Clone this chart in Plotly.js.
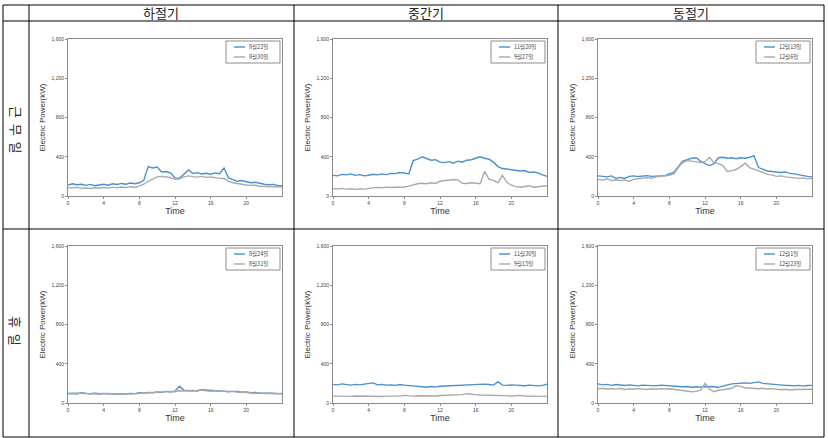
<!DOCTYPE html>
<html>
<head>
<meta charset="utf-8">
<script src="https://cdn.plot.ly/plotly-3.0.1.min.js"></script>
<style>html,body{margin:0;padding:0;background:#fff;}#chart{width:828px;height:438px;}</style>
</head>
<body>
<div id="chart"></div>
<script>
// ---- data ----
const hours = [0,0.5,1,1.5,2,2.5,3,3.5,4,4.5,5,5.5,6,6.5,7,7.5,8,8.5,9,9.5,10,10.5,11,11.5,12,12.5,13,13.5,14,14.5,15,15.5,16,16.5,17,17.5,18,18.5,19,19.5,20,20.5,21,21.5,22,22.5,23,23.5,24];
const xTicks = [0,4,8,12,16,20];
const yTicks = [0,400,800,1200,1600];
const columnTitles = ["하절기","중간기","동절기"];
const rowTitles = ["근\u00A0\u00A0무\u00A0\u00A0일","휴\u00A0\u00A0일"];
const xTitle = "Time";
const yTitle = "Electric Power(kW)";

// 하절기 근무일
const aug22 = [110,125,115,120,108,118,105,112,120,110,125,118,128,120,132,125,135,160,300,285,295,245,250,235,185,180,225,265,230,238,225,232,222,235,228,285,185,165,150,158,145,135,140,128,120,115,118,108,105];
const aug30 = [85,80,88,78,82,76,84,79,86,80,90,84,92,86,95,90,100,120,150,175,195,200,192,188,170,175,195,205,198,192,200,190,195,185,180,178,150,135,125,118,112,108,110,100,98,102,95,98,92];
// 중간기 근무일
const nov20 = [210,205,220,215,225,210,218,205,212,222,215,225,218,230,228,240,235,225,360,375,400,380,365,370,345,340,350,335,355,345,365,370,385,400,385,375,345,300,280,275,270,265,255,260,240,245,235,215,200];
const sep27 = [75,72,78,70,74,68,72,70,78,85,88,84,90,86,88,84,92,100,115,125,130,125,135,128,150,155,160,168,165,130,128,135,130,125,250,170,160,135,210,140,110,95,90,100,105,90,95,100,105];
// 동절기 근무일
const dec13 = [205,200,195,205,180,190,178,200,205,198,202,208,200,205,210,208,225,240,300,355,370,385,390,355,330,310,330,390,395,385,390,380,390,385,395,410,290,270,255,250,245,240,245,230,225,215,205,200,195];
const dec6 = [170,160,175,155,165,158,162,150,170,178,182,188,180,195,200,205,210,225,290,340,360,355,345,340,350,395,340,330,310,250,258,270,300,335,290,275,255,240,220,215,200,205,195,190,185,180,185,175,180];
// 하절기 휴일
const aug24 = [95,100,92,105,98,95,100,94,98,92,96,90,95,92,98,96,105,100,108,105,112,108,118,112,120,170,130,125,128,122,135,130,125,120,122,118,120,115,118,110,112,105,108,100,102,98,100,95,98];
const aug31 = [100,95,102,96,100,92,97,90,95,98,92,95,90,96,92,95,98,102,100,108,105,112,115,118,115,125,122,128,124,130,132,125,120,125,118,122,112,118,108,112,105,102,100,104,96,100,95,98,92];
// 중간기 휴일
const nov30 = [190,185,195,188,182,190,185,192,195,205,185,190,182,185,180,188,182,178,175,172,165,160,168,162,170,172,178,175,182,180,185,182,190,185,192,188,182,215,182,180,185,182,180,176,182,178,175,180,192];
const sep15 = [70,68,72,70,68,72,70,68,72,70,68,66,70,68,72,70,78,72,70,74,72,70,74,72,76,78,80,78,82,85,95,88,85,82,80,78,76,74,72,70,72,74,78,72,70,68,70,68,70];
// 동절기 휴일
const dec1 = [195,185,190,180,188,182,178,185,180,175,182,178,180,175,182,178,175,172,170,165,168,160,165,162,168,170,165,160,175,185,195,200,198,205,200,208,215,200,195,190,192,185,180,178,175,180,172,178,180];
const dec23 = [145,150,140,148,142,150,138,145,140,148,142,138,145,140,148,142,145,140,135,130,125,115,118,130,200,140,115,130,135,140,150,175,170,155,150,148,145,150,142,146,140,135,140,132,138,140,135,138,140];

const panels = [
  {names:["8월22일","8월30일"], series:[aug22, aug30]},
  {names:["11월20일","9월27일"], series:[nov20, sep27]},
  {names:["12월13일","12월6일"], series:[dec13, dec6]},
  {names:["8월24일","8월31일"], series:[aug24, aug31]},
  {names:["11월30일","9월15일"], series:[nov30, sep15]},
  {names:["12월1일","12월23일"], series:[dec1, dec23]}
];
const colors = ["#4a8fd4","#a9a9a9"];

// ---- layout geometry (pixels) ----
const W = 828, H = 438;
const px = x => x / W;
const py = y => 1 - y / H;
const colX = [[68,282],[333,547],[598,812]];
const rowY = [[39,196],[246,403]];

const traces = [];
const layout = {
  width: W, height: H,
  margin: {l:0, r:0, t:0, b:0},
  paper_bgcolor: "#fff", plot_bgcolor: "#fff",
  showlegend: false,
  font: {family: "Liberation Sans, Arial, sans-serif", color: "#333"},
  shapes: [], annotations: []
};

panels.forEach((p, i) => {
  const r = Math.floor(i / 3), c = i % 3;
  const k = i === 0 ? "" : String(i + 1);
  p.series.forEach((s, j) => {
    traces.push({
      x: hours, y: s, type: "scatter", mode: "lines", name: p.names[j],
      xaxis: "x" + k, yaxis: "y" + k,
      line: {color: colors[j], width: 1.4}
    });
  });
  layout["xaxis" + k] = {
    domain: [px(colX[c][0]), px(colX[c][1])], anchor: "y" + k,
    range: [0, 24], tickvals: xTicks, showgrid: false, zeroline: false,
    showline: true, mirror: true, linecolor: "#8c8c8c", linewidth: 1,
    ticks: "outside", ticklen: 2, tickcolor: "#8c8c8c", tickfont: {size: 5, color: "#444"},
    title: {text: xTitle, font: {size: 9, color: "#333"}, standoff: 2}
  };
  layout["yaxis" + k] = {
    domain: [py(rowY[r][1]), py(rowY[r][0])], anchor: "x" + k,
    range: [0, 1600], tickvals: yTicks, tickformat: ",", showgrid: false, zeroline: false,
    showline: true, mirror: true, linecolor: "#8c8c8c", linewidth: 1,
    ticks: "outside", ticklen: 2, tickcolor: "#8c8c8c", tickfont: {size: 5, color: "#444"},
    title: {text: yTitle, font: {size: 8, color: "#333"}, standoff: 4}
  };
  // legend box drawn inside the plot's top-right corner
  const R = colX[c][1], T = rowY[r][0];
  layout.shapes.push({type: "rect", xref: "paper", yref: "paper",
    x0: px(R - 56), x1: px(R - 2), y0: py(T + 2), y1: py(T + 24),
    line: {color: "#8c8c8c", width: 1}, fillcolor: "#fff"});
  p.names.forEach((nm, j) => {
    const yy = T + 8 + j * 10;
    layout.shapes.push({type: "line", xref: "paper", yref: "paper",
      x0: px(R - 48), x1: px(R - 37), y0: py(yy), y1: py(yy),
      line: {color: colors[j], width: 1.4}});
    layout.annotations.push({text: nm, xref: "paper", yref: "paper",
      x: px(R - 35), y: py(yy), xanchor: "left", yanchor: "middle", showarrow: false,
      font: {size: 5.5, color: "#444", family: "Noto Sans CJK KR"}});
  });
});

// table lines
const tl = (x0, y0, x1, y1) => layout.shapes.push({type: "line", xref: "paper", yref: "paper",
  x0: px(x0), y0: py(y0), x1: px(x1), y1: py(y1), line: {color: "#000", width: 1}});
const vx = [3, 29, 294, 558, 824];
vx.forEach(x => tl(x, 5, x, 437));
[5, 21, 229, 437].forEach(y => tl(3, y, 824, y));

// header texts
const headerCenters = [161, 426, 691];
columnTitles.forEach((t, i) => layout.annotations.push({
  text: t, xref: "paper", yref: "paper", x: px(headerCenters[i]), y: py(13),
  showarrow: false, xanchor: "center", yanchor: "middle",
  font: {size: 13, family: "Noto Sans CJK KR", color: "#222"}
}));
const rowCenters = [130, 331];
rowTitles.forEach((t, i) => layout.annotations.push({
  text: t, xref: "paper", yref: "paper", x: px(16), y: py(rowCenters[i]),
  showarrow: false, xanchor: "center", yanchor: "middle", textangle: 90,
  font: {size: 13, family: "Noto Sans CJK KR", color: "#222"}
}));

Plotly.newPlot("chart", traces, layout, {staticPlot: true, displayModeBar: false});
</script>
</body>
</html>
